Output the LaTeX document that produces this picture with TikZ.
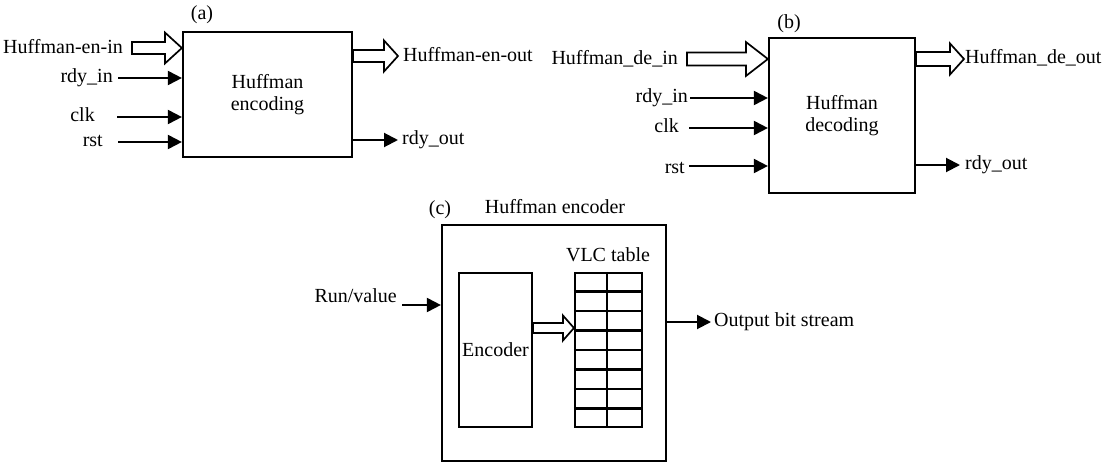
\documentclass[tikz,border=0pt]{standalone}
\usepackage{fontspec}
\setmainfont{Liberation Serif}
\usetikzlibrary{arrows.meta,calc}

% hollow block arrow: #1 start, #2 tip, #3 half shaft height, #4 half head height, #5 head length
\newcommand\fatarrow[5]{%
  \draw[fat] ($(#1)+(0,#3)$) -- ($(#2)+(-#5,#3)$) -- ($(#2)+(-#5,#4)$) -- (#2)
    -- ($(#2)+(-#5,-#4)$) -- ($(#2)+(-#5,-#3)$) -- ($(#1)+(0,-#3)$) -- cycle;}

\tikzset{
  blk/.style={draw, line width=2.2pt, inner sep=0pt, align=center},
  sig/.style={line width=2pt, -{Triangle[length=14pt,width=14pt]}},
  fat/.style={draw, line width=1.7pt, fill=white, line join=miter},
  tbl/.style={line width=2.1pt},
  lbl/.style={inner sep=0pt, text height=13pt, text depth=4pt},
}

\begin{document}
\begin{tikzpicture}[x=1pt, y=-1pt, font=\fontsize{20}{22}\selectfont]
\useasboundingbox (0,0) rectangle (1103,463);

% ---------------- (a) encoding block ----------------
\node[blk, minimum width=169pt, minimum height=125pt] (A) at (267.5,94.5) {Huffman\\encoding};
\node[lbl] (la) at (202,15) {(a)};

\node[lbl, anchor=east] (a-in-t) at (123,49) {Huffman-en-in};
\coordinate (a-in) at (132,48);
\coordinate (a-in-e) at (a-in -| A.west);
\fatarrow{a-in}{a-in-e}{6}{15.5}{17}

\node[lbl, anchor=east] (a-rdy-t) at (113,78) {rdy\_in};
\coordinate (a-rdy) at (118,78);
\draw[sig] (a-rdy) -- (a-rdy -| A.west);

\node[lbl, anchor=east] (a-clk-t) at (95,117) {clk};
\coordinate (a-clk) at (117,117);
\draw[sig] (a-clk) -- (a-clk -| A.west);

\node[lbl, anchor=east] (a-rst-t) at (103,142) {rst};
\coordinate (a-rst) at (118,142);
\draw[sig] (a-rst) -- (a-rst -| A.west);

\coordinate (a-out-e) at (398,56);
\coordinate (a-out) at (a-out-e -| A.east);
\fatarrow{a-out}{a-out-e}{6}{15.5}{14}
\node[lbl, anchor=west] (a-out-t) at (403,57) {Huffman-en-out};

\coordinate (a-ro) at (398,140);
\draw[sig] (a-ro -| A.east) -- (a-ro);
\node[lbl, anchor=west] (a-ro-t) at (402,140) {rdy\_out};

% ---------------- (b) decoding block ----------------
\node[blk, minimum width=146pt, minimum height=155pt] (B) at (842,115.5) {Huffman\\decoding};
\node[lbl] (lb) at (789,24) {(b)};

\node[lbl, anchor=east] (b-in-t) at (678,60) {Huffman\_de\_in};
\coordinate (b-in) at (687,59);
\coordinate (b-in-e) at (b-in -| B.west);
\fatarrow{b-in}{b-in-e}{6.5}{17}{22}

\node[lbl, anchor=east] (b-rdy-t) at (688,98) {rdy\_in};
\coordinate (b-rdy) at (690,98);
\draw[sig] (b-rdy) -- (b-rdy -| B.west);

\node[lbl, anchor=east] (b-clk-t) at (679,128) {clk};
\coordinate (b-clk) at (689,128);
\draw[sig] (b-clk) -- (b-clk -| B.west);

\node[lbl, anchor=east] (b-rst-t) at (685,169) {rst};
\coordinate (b-rst) at (689,166);
\draw[sig] (b-rst) -- (b-rst -| B.west);

\coordinate (b-out-e) at (964,59);
\coordinate (b-out) at (b-out-e -| B.east);
\fatarrow{b-out}{b-out-e}{7}{15.5}{14}
\node[lbl, anchor=west] (b-out-t) at (965,59) {Huffman\_de\_out};

\coordinate (b-ro) at (960,165);
\draw[sig] (b-ro -| B.east) -- (b-ro);
\node[lbl, anchor=west] (b-ro-t) at (965,165) {rdy\_out};

% ---------------- (c) encoder structure ----------------
\node[blk, minimum width=224pt, minimum height=236pt] (C) at (554,343) {};
\node[lbl] (lc) at (440,210) {(c)};
\node[lbl] (ct) at (555,209) {Huffman encoder};

\node[blk, minimum width=73pt, minimum height=154pt] (E) at (495.5,350) {Encoder};

\node[blk, line width=2.1pt, minimum width=67pt, minimum height=154pt] (T) at (608.5,350) {};
\node[lbl] (tt) at (608,257) {VLC table};
\draw[tbl] ($(T.north west)!0.48!(T.north east)$) -- ($(T.south west)!0.48!(T.south east)$);
\foreach \k in {1,...,7}
  \draw[tbl] ($(T.north west)!\k/8!(T.south west)$) -- ($(T.north east)!\k/8!(T.south east)$);

\coordinate (c-mid) at (550,328);
\coordinate (c-mid-s) at (c-mid -| E.east);
\coordinate (c-mid-e) at (c-mid -| T.west);
\fatarrow{c-mid-s}{c-mid-e}{5}{12.5}{11}

\node[lbl, anchor=east] (c-in-t) at (397,298) {Run/value};
\coordinate (c-in) at (402,305);
\draw[sig] (c-in) -- (c-in -| C.west);

\coordinate (c-out) at (711,322);
\draw[sig] (c-out -| C.east) -- (c-out);
\node[lbl, anchor=west] (c-out-t) at (714,322) {Output bit stream};

\end{tikzpicture}
\end{document}
